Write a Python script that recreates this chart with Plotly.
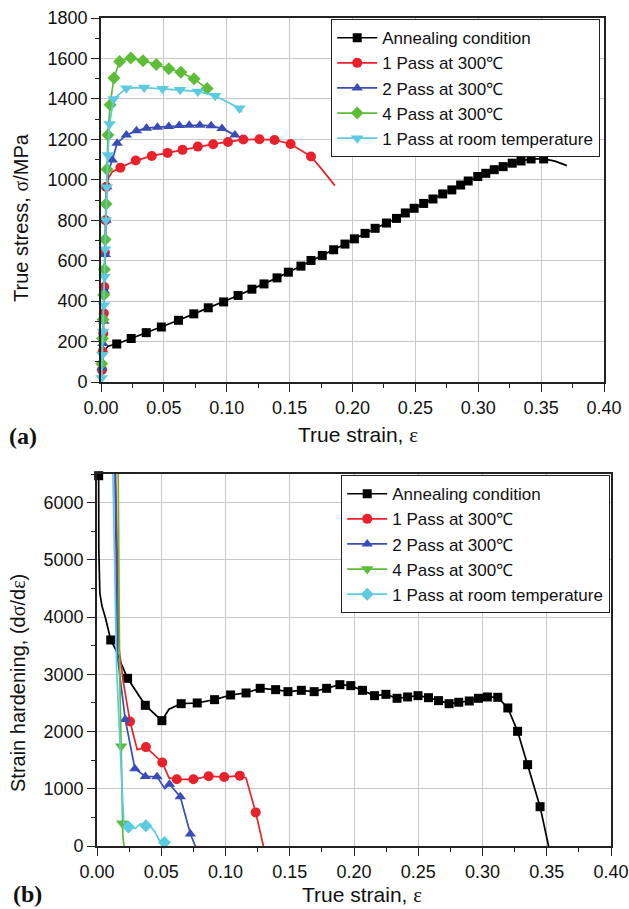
import plotly.graph_objects as go

# ---------------- (a) true stress - true strain ----------------
series_names = ["Annealing condition", "1 Pass at 300℃", "2 Pass at 300℃",
                "4 Pass at 300℃", "1 Pass at room temperature"]

# Annealing condition (markers + extra curve points)
a_ann_x = [0.0125, 0.024, 0.036, 0.048, 0.0616, 0.0738, 0.0853, 0.0975, 0.109, 0.120,
           0.1296, 0.140, 0.149, 0.159, 0.167, 0.176, 0.185, 0.194, 0.2015, 0.210,
           0.218, 0.227, 0.235, 0.242, 0.249, 0.2566, 0.264, 0.2717, 0.279, 0.286,
           0.292, 0.2996, 0.306, 0.3127, 0.3198, 0.327, 0.334, 0.342, 0.352]
a_ann_y = [188, 215, 244, 272, 305, 337, 367, 396, 428, 459,
           485, 515, 543, 573, 601, 626, 654, 682, 708, 735,
           760, 786, 809, 836, 859, 883, 905, 930, 950, 974,
           994, 1016, 1032, 1050, 1065, 1082, 1093, 1103, 1103]
a_ann_cx = [0.0, 0.0015, 0.003, 0.006, 0.361, 0.3705]
a_ann_cy = [0, 120, 160, 178, 1092, 1070]

# 1 Pass at 300C
a_p1_x = [0.0008, 0.0013, 0.0018, 0.0022, 0.0026, 0.0031, 0.0036, 0.0042, 0.0154, 0.0276,
          0.0404, 0.0529, 0.0648, 0.077, 0.0892, 0.101, 0.1132, 0.126, 0.138, 0.1508, 0.167]
a_p1_y = [60, 150, 240, 340, 470, 640, 800, 965, 1060, 1095,
          1118, 1133, 1148, 1164, 1176, 1187, 1199, 1200, 1197, 1177, 1115]
a_p1_cx = [0.0, 0.006, 0.009, 0.176, 0.186]
a_p1_cy = [0, 1010, 1040, 1049, 971]

# 2 Pass at 300C
a_p2_x = [0.0008, 0.0015, 0.0022, 0.0028, 0.0034, 0.004, 0.0046, 0.009, 0.0128, 0.0202,
          0.0282, 0.0362, 0.0449, 0.0539, 0.0622, 0.0702, 0.0786, 0.0876, 0.0962, 0.1065]
a_p2_y = [70, 190, 300, 450, 630, 800, 965, 1098, 1181, 1222,
          1242, 1255, 1260, 1263, 1268, 1270, 1270, 1267, 1253, 1222]
a_p2_cx = [0.0, 0.006]
a_p2_cy = [0, 1045]

# 4 Pass at 300C
a_p4_x = [0.0006, 0.0012, 0.0017, 0.0022, 0.0027, 0.0033, 0.004, 0.0047, 0.0055, 0.0072,
          0.0103, 0.0148, 0.0237, 0.0334, 0.044, 0.0539, 0.0635, 0.074, 0.0844]
a_p4_y = [90, 215, 309, 430, 556, 705, 880, 1052, 1222, 1371,
          1503, 1585, 1602, 1589, 1570, 1549, 1532, 1499, 1451]
a_p4_cx = [0.0]
a_p4_cy = [0]

# 1 Pass at room temperature
a_rt_x = [0.0005, 0.0011, 0.0017, 0.0023, 0.0028, 0.0033, 0.0039, 0.0046, 0.0055, 0.0068,
          0.0100, 0.0202, 0.0343, 0.049, 0.0629, 0.077, 0.0908, 0.110]
a_rt_y = [20, 135, 250, 380, 520, 656, 801, 963, 1123, 1276,
          1399, 1453, 1456, 1450, 1445, 1437, 1415, 1354]
a_rt_cx = [0.0, 0.112]
a_rt_cy = [0, 1333]

# ---------------- (b) strain hardening - true strain ----------------
b_ann_x = [0.0013, 0.0107, 0.0238, 0.0376, 0.0505, 0.0655, 0.078, 0.0915, 0.104, 0.116,
           0.127, 0.139, 0.1486, 0.159, 0.169, 0.1787, 0.189, 0.1975, 0.2066, 0.216,
           0.2248, 0.2335, 0.2417, 0.2498, 0.258, 0.2658, 0.274, 0.2815, 0.2897, 0.2969,
           0.3038, 0.3119, 0.3197, 0.3273, 0.3351, 0.3448]
b_ann_y = [6470, 3600, 2930, 2458, 2190, 2487, 2499, 2557, 2639, 2674,
           2755, 2732, 2697, 2720, 2697, 2755, 2819, 2802, 2720, 2627,
           2650, 2581, 2604, 2627, 2592, 2540, 2487, 2511, 2534, 2581,
           2604, 2598, 2412, 2004, 1421, 687]
b_ann_cx = [0.0012, 0.0014, 0.0022, 0.0039, 0.0066, 0.0144, 0.0196, 0.056, 0.3514]
b_ann_cy = [6500, 5200, 4420, 4190, 3985, 3440, 3146, 2390, 0]

b_p1_x = [0.0257, 0.0381, 0.0508, 0.0621, 0.075, 0.0869, 0.099, 0.1111, 0.1235]
b_p1_y = [2175, 1728, 1460, 1165, 1165, 1220, 1205, 1229, 587]
b_p1_cx = [0.0145, 0.0172, 0.0205, 0.0313, 0.0561, 0.116, 0.1295]
b_p1_cy = [6500, 3440, 2860, 1684, 1190, 1187, 0]

b_p2_x = [0.0220, 0.0295, 0.0376, 0.0467, 0.0564, 0.0648, 0.0727]
b_p2_y = [2210, 1350, 1216, 1210, 1080, 860, 210]
b_p2_cx = [0.0140, 0.0160, 0.0528, 0.0765]
b_p2_cy = [6500, 3300, 1000, 0]

b_p4_x = [0.0188, 0.0196]
b_p4_y = [1742, 398]
b_p4_cx = [0.0165, 0.0176, 0.0201, 0.0210]
b_p4_cy = [6500, 3076, 180, 0]

b_rt_x = [0.0245, 0.0380, 0.0525]
b_rt_y = [330, 355, 60]
b_rt_cx = [0.0124, 0.0153, 0.0185, 0.0209, 0.030, 0.0334, 0.0413, 0.045, 0.0483]
b_rt_cy = [6500, 3076, 1500, 398, 310, 386, 351, 251, 105]

x_tickvals = [0.00, 0.05, 0.10, 0.15, 0.20, 0.25, 0.30, 0.35, 0.40]
x_ticktext = ["0.00", "0.05", "0.10", "0.15", "0.20", "0.25", "0.30", "0.35", "0.40"]
a_y_tickvals = [0, 200, 400, 600, 800, 1000, 1200, 1400, 1600, 1800]
b_y_tickvals = [0, 1000, 2000, 3000, 4000, 5000, 6000]

# ---------------- styling ----------------
colors = ["#000000", "#e8212a", "#3a4cb5", "#5dbd38", "#5ccae0"]
sym_a = ["square", "circle", "triangle-up", "diamond", "triangle-down"]
sym_b = ["square", "circle", "triangle-up", "triangle-down", "diamond"]
msize_a = [9, 10, 10, 10, 11]
msize_b = [9, 10, 10, 11, 10]
FONT = "Liberation Sans, Arial, sans-serif"
SERIF = "Liberation Serif, Times New Roman, serif"

fig = go.Figure()


def merged(mx, my, cx, cy):
    pts = sorted(list(zip(mx, my)) + list(zip(cx, cy)), key=lambda p: p[0])
    return [p[0] for p in pts], [p[1] for p in pts]


def add_series(i, mx, my, cx, cy, xa, ya, symbols, sizes, legend):
    lx, ly = merged(mx, my, cx, cy)
    fig.add_trace(go.Scatter(x=lx, y=ly, mode="lines", xaxis=xa, yaxis=ya,
                             line=dict(color=colors[i], width=1.7),
                             showlegend=False, hoverinfo="skip"))
    fig.add_trace(go.Scatter(x=mx, y=my, mode="markers", xaxis=xa, yaxis=ya,
                             marker=dict(symbol=symbols[i], size=sizes[i], color=colors[i],
                                         line=dict(width=0)),
                             cliponaxis=False, showlegend=False))
    fig.add_trace(go.Scatter(x=[None], y=[None], mode="lines+markers", name=series_names[i],
                             xaxis=xa, yaxis=ya, legend=legend,
                             line=dict(color=colors[i], width=1.7),
                             marker=dict(symbol=symbols[i], size=sizes[i], color=colors[i],
                                         line=dict(width=0))))


a_data = [(a_ann_x, a_ann_y, a_ann_cx, a_ann_cy), (a_p1_x, a_p1_y, a_p1_cx, a_p1_cy),
          (a_p2_x, a_p2_y, a_p2_cx, a_p2_cy), (a_p4_x, a_p4_y, a_p4_cx, a_p4_cy),
          (a_rt_x, a_rt_y, a_rt_cx, a_rt_cy)]
b_data = [(b_ann_x, b_ann_y, b_ann_cx, b_ann_cy), (b_p1_x, b_p1_y, b_p1_cx, b_p1_cy),
          (b_p2_x, b_p2_y, b_p2_cx, b_p2_cy), (b_p4_x, b_p4_y, b_p4_cx, b_p4_cy),
          (b_rt_x, b_rt_y, b_rt_cx, b_rt_cy)]

for i, d in enumerate(a_data):
    add_series(i, *d, "x", "y", sym_a, msize_a, "legend")
for i, d in enumerate(b_data):
    add_series(i, *d, "x2", "y2", sym_b, msize_b, "legend2")

W, H = 629, 909


def px_x(p):
    return p / W


def px_y(p):
    return 1 - p / H


axis_common = dict(showline=True, mirror=True, linecolor="#222222", linewidth=1.8,
                   showgrid=True, gridcolor="#c8c8c8", gridwidth=1, zeroline=False,
                   ticks="outside", ticklen=8, tickwidth=1.4, tickcolor="#222222",
                   automargin=False,
                   tickfont=dict(family=FONT, size=18, color="#111111"))
minor_common = dict(ticks="outside", ticklen=4, tickwidth=1.2, tickcolor="#222222",
                    showgrid=False)

fig.update_layout(
    width=W, height=H, margin=dict(l=0, r=0, t=0, b=0, autoexpand=False),
    paper_bgcolor="white", plot_bgcolor="white",
    font=dict(family=FONT, size=17, color="#111111"),
    xaxis=dict(domain=[px_x(101), px_x(604)], range=[0, 0.40], anchor="y",
               tickvals=x_tickvals, ticktext=x_ticktext,
               minor=dict(dtick=0.025, **minor_common), **axis_common),
    yaxis=dict(domain=[px_y(382), px_y(18)], range=[0, 1800], anchor="x",
               tickvals=a_y_tickvals,
               minor=dict(dtick=100, **minor_common), **axis_common),
    xaxis2=dict(domain=[px_x(97), px_x(611)], range=[0, 0.40], anchor="y2",
                tickvals=x_tickvals, ticktext=x_ticktext,
                minor=dict(dtick=0.025, **minor_common), **axis_common),
    yaxis2=dict(domain=[px_y(846), px_y(474)], range=[0, 6500], anchor="x2",
                tickvals=b_y_tickvals,
                minor=dict(dtick=500, **minor_common), **axis_common),
    legend=dict(x=px_x(600), y=px_y(19), xanchor="right", yanchor="top",
                bgcolor="white", bordercolor="#222222", borderwidth=1.2,
                font=dict(family=FONT, size=17), tracegroupgap=0, itemwidth=40),
    legend2=dict(x=px_x(610), y=px_y(475), xanchor="right", yanchor="top",
                 bgcolor="white", bordercolor="#222222", borderwidth=1.2,
                 font=dict(family=FONT, size=17), tracegroupgap=0, itemwidth=40),
)

annotations = [
    dict(text="True stress, <span style='font-family:Liberation Serif'>σ</span>/MPa",
         x=px_x(21), y=px_y(218), textangle=-90, font=dict(size=20)),
    dict(text="True strain, <span style='font-family:Liberation Serif'>ε</span>",
         x=px_x(358), y=px_y(435), font=dict(size=21)),
    dict(text="<b>(a)</b>", x=px_x(23), y=px_y(436),
         font=dict(family=SERIF, size=24)),
    dict(text="Strain hardening, (d<span style='font-family:Liberation Serif'>σ</span>/d"
              "<span style='font-family:Liberation Serif'>ε</span>)",
         x=px_x(18), y=px_y(683), textangle=-90, font=dict(size=20)),
    dict(text="True strain, <span style='font-family:Liberation Serif'>ε</span>",
         x=px_x(362), y=px_y(895), font=dict(size=21)),
    dict(text="<b>(b)</b>", x=px_x(27), y=px_y(894),
         font=dict(family=SERIF, size=24)),
]
for a in annotations:
    fig.add_annotation(xref="paper", yref="paper", showarrow=False,
                       xanchor="center", yanchor="middle", **a)

fig.write_html("out.html",
               config={"displayModeBar": False},
               post_script="document.body.style.margin='0';"
                           "document.body.style.overflow='hidden';")
